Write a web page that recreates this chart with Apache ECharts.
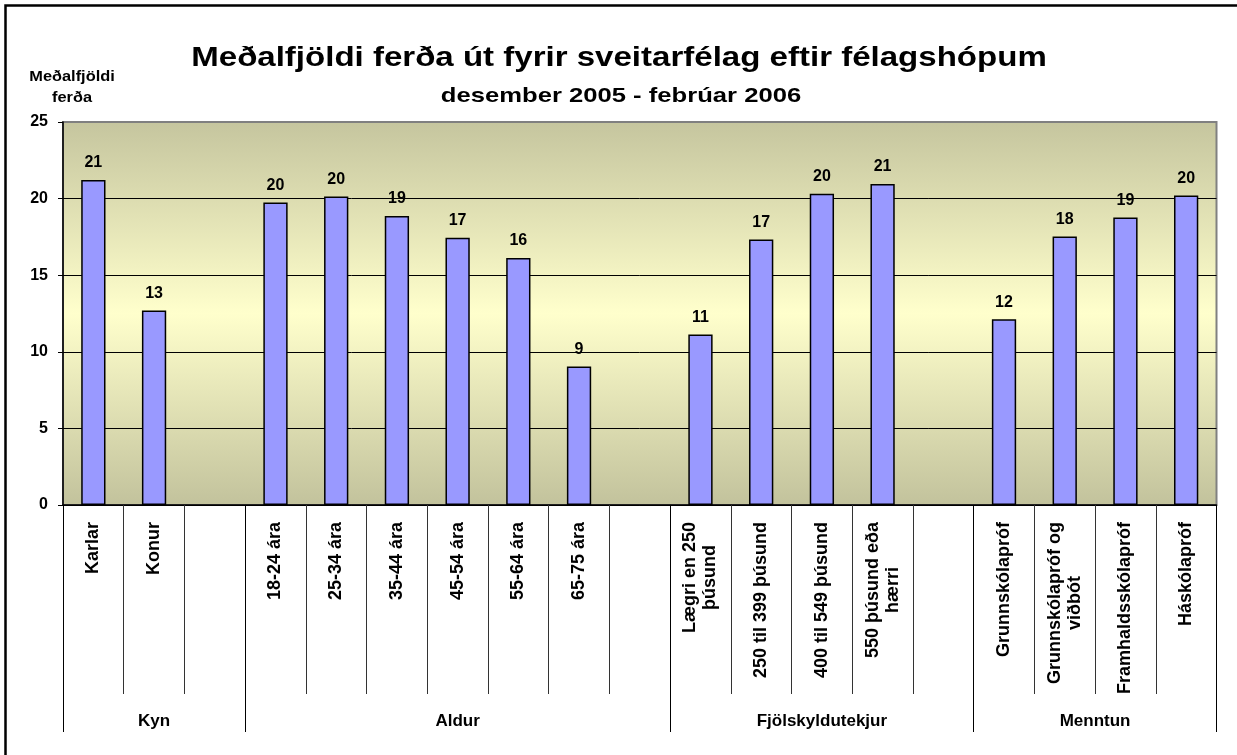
<!DOCTYPE html>
<html>
<head>
<meta charset="utf-8">
<script src="https://cdn.jsdelivr.net/npm/echarts@6/dist/echarts.min.js"></script>
<style>
  html, body { margin: 0; padding: 0; background: #fff; }
  #chart { width: 1237px; height: 755px; }
</style>
</head>
<body>
<div id="chart"></div>
<script>
// flokkar (tómir flokkar = bil milli hópa)
const categories = [
  'Karlar', 'Konur', ' ',
  '18-24 ára', '25-34 ára', '35-44 ára', '45-54 ára', '55-64 ára', '65-75 ára', '  ',
  'Lægri en 250\nþúsund', '250 til 399 þúsund', '400 til 549 þúsund', '550 þúsund eða\nhærri', '   ',
  'Grunnskólapróf', 'Grunnskólapróf og\nviðbót', 'Framhaldsskólapróf', 'Háskólapróf'
];
const values = [
  21.22, 12.7, null,
  19.74, 20.13, 18.87, 17.44, 16.13, 9.04, null,
  11.13, 17.33, 20.31, 20.96, null,
  12.13, 17.52, 18.76, 20.2
];
const groupNames = ['Kyn', 'Aldur', 'Fjölskyldutekjur', 'Menntun'];
const groupBounds = [0, 3, 10, 15, 19];
const yTicks = [0, 5, 10, 15, 20, 25];

const FONT = 'Arial, "Liberation Sans", sans-serif';

// hálf-skref ás fyrir hópaheiti og skilalínur
const halfSteps = [];
for (let i = 0; i <= categories.length * 2; i++) halfSteps.push('');
groupNames.forEach((g, k) => { halfSteps[groupBounds[k] + groupBounds[k + 1]] = g; });
const groupTickIdx = groupBounds.map(b => b * 2);

const myChart = echarts.init(document.getElementById('chart'));
const option = {
  animation: false,
  graphic: [
    {
      type: 'rect',
      shape: { x: 5.5, y: 5.5, width: 1240, height: 760 },
      style: { fill: 'none', stroke: '#000', lineWidth: 2.5 }
    },
    // titill
    {
      type: 'text',
      x: 619,
      y: 58,
      scaleX: 1.18,
      style: {
        text: 'Meðalfjöldi ferða út fyrir sveitarfélag eftir félagshópum',
        align: 'center',
        verticalAlign: 'middle',
        font: 'bold 28px ' + FONT,
        fill: '#000'
      }
    },
    {
      type: 'text',
      x: 621,
      y: 96,
      scaleX: 1.22,
      style: {
        text: 'desember 2005 - febrúar 2006',
        align: 'center',
        verticalAlign: 'middle',
        font: 'bold 21px ' + FONT,
        fill: '#000'
      }
    },
    {
      type: 'text',
      x: 72,
      y: 67,
      scaleX: 1.17,
      style: {
        text: 'Meðalfjöldi\nferða',
        align: 'center',
        lineHeight: 21,
        font: 'bold 14px ' + FONT,
        fill: '#000'
      }
    }
  ],
  grid: {
    left: 63,
    right: 20.5,
    top: 122,
    bottom: 250,
    show: true,
    borderColor: '#808080',
    borderWidth: 2,
    backgroundColor: new echarts.graphic.LinearGradient(0, 0, 0, 1, [
      { offset: 0, color: '#C5C59E' },
      { offset: 0.5, color: '#FFFFCC' },
      { offset: 1, color: '#C2C29C' }
    ]),
    outerBoundsMode: 'none',
    containLabel: false
  },
  xAxis: [
    {
      type: 'category',
      data: categories,
      position: 'bottom',
      axisLine: { lineStyle: { color: '#000', width: 1.5 } },
      axisTick: { show: true, interval: 0, length: 189, lineStyle: { color: '#333', width: 1 } },
      axisLabel: {
        interval: 0,
        rotate: 90,
        margin: 17,
        formatter: v => v.split('\n').map(s => '{c|' + s + '}').join('\n'),
        rich: {
          c: { align: 'center', fontFamily: FONT, fontSize: 18, fontWeight: 'bold', color: '#000', lineHeight: 20 }
        }
      }
    },
    {
      type: 'category',
      data: halfSteps,
      boundaryGap: false,
      position: 'bottom',
      offset: 0,
      axisLine: { show: false },
      axisTick: {
        show: true,
        interval: (i) => groupTickIdx.indexOf(i) >= 0,
        length: 227,
        lineStyle: { color: '#000', width: 1 }
      },
      axisLabel: {
        interval: 0,
        margin: 208,
        fontFamily: FONT,
        fontSize: 17,
        fontWeight: 'bold',
        color: '#000'
      },
      splitLine: { show: false }
    }
  ],
  yAxis: {
    type: 'value',
    min: yTicks[0],
    max: yTicks[yTicks.length - 1],
    interval: 5,
    axisLine: { show: true, lineStyle: { color: '#000', width: 1.5 } },
    axisTick: { show: true, length: 5, lineStyle: { color: '#000' } },
    axisLabel: { margin: 15, fontFamily: FONT, fontSize: 16, fontWeight: 'bold', color: '#000' },
    splitLine: {
      show: true,
      lineStyle: { color: ['#000', '#000', '#000', '#000', '#000', '#808080'], width: 1 }
    }
  },
  series: [
    {
      type: 'bar',
      xAxisIndex: 0,
      data: values,
      barWidth: '40%',
      itemStyle: { color: '#9999FF', borderColor: '#000', borderWidth: 1.5 },
      label: {
        show: true,
        position: 'top',
        distance: 9,
        formatter: p => Math.round(p.value),
        fontFamily: FONT,
        fontSize: 16,
        fontWeight: 'bold',
        color: '#000'
      }
    }
  ]
};
myChart.setOption(option);
</script>
</body>
</html>
